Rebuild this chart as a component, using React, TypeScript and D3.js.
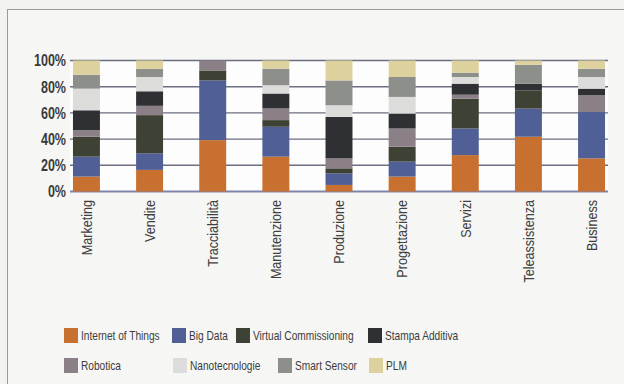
import React from "react";
import * as d3 from "d3";

const categories = [
  "Marketing",
  "Vendite",
  "Tracciabilità",
  "Manutenzione",
  "Produzione",
  "Progettazione",
  "Servizi",
  "Teleassistenza",
  "Business",
];

// values in %, one per category
const internetOfThings = [11.4, 16.5, 39.2, 26.6, 5.0, 11.4, 27.8, 41.8, 25.3];
const bigData = [15.2, 12.7, 45.6, 22.8, 8.9, 11.4, 20.3, 21.5, 35.4];
const virtualCommissioning = [15.2, 29.1, 7.6, 5.1, 3.8, 11.4, 22.8, 13.9, 0];
const robotica = [5.0, 7.1, 7.6, 8.9, 7.6, 13.9, 3.0, 0, 12.7];
const stampaAdditiva = [15.2, 11.1, 0, 11.4, 31.6, 11.4, 8.4, 5.1, 5.1];
const nanotecnologie = [16.5, 10.9, 0, 6.3, 8.9, 12.7, 5.1, 0, 8.9];
const smartSensor = [10.6, 6.3, 0, 12.7, 19.0, 15.2, 3.3, 14.4, 6.3];
const plm = [10.9, 6.3, 0, 6.2, 15.2, 12.6, 9.3, 3.3, 6.3];

const yTicks = [0, 0.2, 0.4, 0.6, 0.8, 1];

const series = [
  { key: "Internet of Things", values: internetOfThings, color: "#c8702f" },
  { key: "Big Data", values: bigData, color: "#505f95" },
  { key: "Virtual Commissioning", values: virtualCommissioning, color: "#3d4234" },
  { key: "Robotica", values: robotica, color: "#8c8088" },
  { key: "Stampa Additiva", values: stampaAdditiva, color: "#2e3033" },
  { key: "Nanotecnologie", values: nanotecnologie, color: "#dcdcdb" },
  { key: "Smart Sensor", values: smartSensor, color: "#8d908a" },
  { key: "PLM", values: plm, color: "#ddd29e" },
];

const legendOrder = [
  "Internet of Things",
  "Big Data",
  "Virtual Commissioning",
  "Stampa Additiva",
  "Robotica",
  "Nanotecnologie",
  "Smart Sensor",
  "PLM",
];
const legendPos = [
  [64, 328], [172, 328], [236, 328], [368, 328],
  [64, 358], [173, 358], [278, 358], [369, 358],
];

const W = 624;
const H = 384;
const FONT = "'Liberation Sans', Arial, sans-serif";

export default function App() {
  const x = d3
    .scaleBand<string>()
    .domain(categories)
    .range([70, 608])
    .paddingInner(0.573)
    .paddingOuter(0.047);
  const y = d3.scaleLinear().domain([0, 1]).range([191.5, 60.5]);

  const rows = categories.map((c, i) => {
    const r: any = { cat: c };
    series.forEach((s) => (r[s.key] = s.values[i]));
    return r;
  });
  const stacked = d3
    .stack<any>()
    .keys(series.map((s) => s.key))
    .offset(d3.stackOffsetExpand)(rows);

  const colorOf = (k: string) => series.find((s) => s.key === k)!.color;

  return (
    <svg
      width={W}
      height={H}
      style={{ position: "absolute", left: 0, top: 0, background: "#f3f3f1" }}
    >
      <rect x={0} y={0} width={W} height={H} fill="#f3f3f1" />
      <rect x={7.5} y={9.5} width={620} height={400} fill="#f6f6f4" stroke="#9a9a9a" strokeWidth={1} />
      <rect x={70} y={60} width={538} height={132} fill="#fdfdfd" />

      {yTicks.map((t) => (
        <g key={t}>
          <line
            x1={70}
            x2={608}
            y1={y(t)}
            y2={y(t)}
            stroke={t === 0 ? "#7f84a8" : "#6c6f80"}
            strokeWidth={t === 0 ? 2 : 1.4}
          />
          <text
            transform={`translate(66,${y(t)}) scale(0.76,1)`}
            dy="0.36em"
            textAnchor="end"
            fontFamily={FONT}
            fontWeight="bold"
            fontSize={16.5}
            fill="#3a3a3a"
          >
            {d3.format(".0%")(t)}
          </text>
        </g>
      ))}

      {stacked.map((layer) => (
        <g key={layer.key} fill={colorOf(layer.key)}>
          {layer.map((d, i) => (
            <rect
              key={i}
              x={x(categories[i])}
              width={x.bandwidth()}
              y={y(d[1])}
              height={Math.max(0, y(d[0]) - y(d[1]))}
            />
          ))}
        </g>
      ))}

      {categories.map((c) => (
        <text
          key={c}
          transform={`translate(${x(c)! + x.bandwidth() / 2},200) rotate(-90) scale(0.84,1)`}
          dy="0.35em"
          textAnchor="end"
          fontFamily={FONT}
          fontSize={15}
          fill="#404040"
        >
          {c}
        </text>
      ))}

      {legendOrder.map((k, i) => (
        <g key={k} transform={`translate(${legendPos[i][0]},${legendPos[i][1]})`}>
          <rect x={0} y={0} width={14} height={15} fill={colorOf(k)} />
          <text
            transform="translate(17,7.5) scale(0.78,1)"
            dy="0.35em"
            fontFamily={FONT}
            fontSize={13}
            fill="#3c3c3c"
          >
            {k}
          </text>
        </g>
      ))}
    </svg>
  );
}
